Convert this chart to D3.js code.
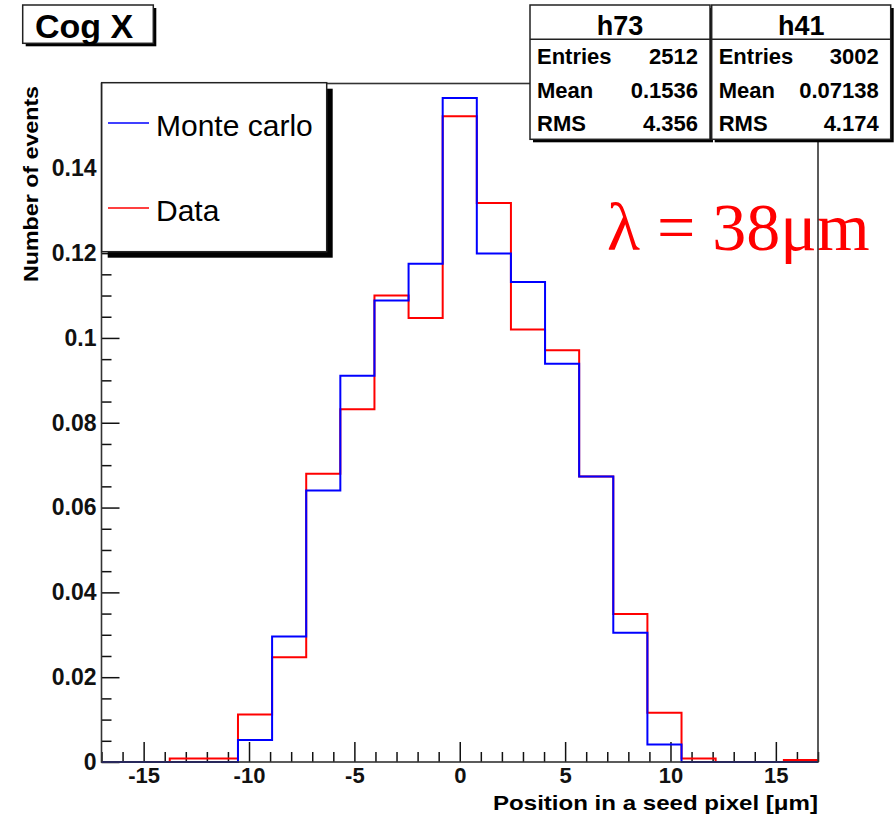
<!DOCTYPE html>
<html>
<head>
<meta charset="utf-8">
<script src="https://cdn.jsdelivr.net/npm/d3@7"></script>
<style>
  body { margin: 0; background: #fff; }
  text { font-family: "Liberation Sans", Arial, Helvetica, sans-serif; }
</style>
</head>
<body>
<script>
var width = 894, height = 815;
var frame = {left: 101.5, right: 818, top: 83.5, bottom: 762};

// 21 bins over [-17, 17]
var xMin = -17, xMax = 17, nBins = 21;

// bin contents (normalised)
var monteCarlo = [0, 0, 0, 0, 0.0052, 0.0296, 0.0640, 0.0911, 0.1088, 0.1175, 0.1566,
                  0.1199, 0.1132, 0.0939, 0.0673, 0.0305, 0.0041, 0, 0, 0, 0];
var dataHist   = [0, 0, 0.0008, 0.0008, 0.0112, 0.0247, 0.0680, 0.0832, 0.1100, 0.1047, 0.1523,
                  0.1318, 0.1020, 0.0971, 0.0673, 0.0349, 0.0116, 0.0008, 0, 0, 0.0005];

var seriesNames  = ["Monte carlo", "Data"];
var seriesColors = ["#0000ff", "#ff0000"];

var histNames  = ["h73", "h41"];
var statLabels = ["Entries", "Mean", "RMS"];
var h73Stats   = ["2512", "0.1536", "4.356"];
var h41Stats   = ["3002", "0.07138", "4.174"];

var xTicks      = [-15, -10, -5, 0, 5, 10, 15];
var yTicks      = [0, 0.02, 0.04, 0.06, 0.08, 0.1, 0.12, 0.14];
var yTickLabels = ["0", "0.02", "0.04", "0.06", "0.08", "0.1", "0.12", "0.14"];

var svg = d3.select("body").append("svg")
    .attr("width", width)
    .attr("height", height);

var x = d3.scaleLinear().domain([xMin, xMax]).range([frame.left, frame.right]);
var y = d3.scaleLinear().domain([0, 0.16]).range([frame.bottom, frame.top]);

// minor ticks
var xMinor = d3.range(-17, 17.01, 1).filter(function(d) { return d % 5 !== 0; });
var yMinor = d3.range(0, 0.1601, 0.005).filter(function(d) { return Math.abs(d / 0.02 - Math.round(d / 0.02)) > 1e-6; });

svg.append("g")
    .attr("transform", "translate(0," + frame.bottom + ")")
    .call(d3.axisBottom(x).tickValues(xMinor).tickFormat("").tickSize(-10))
    .call(function(g) { g.select(".domain").remove(); });

svg.append("g")
    .attr("transform", "translate(" + frame.left + ",0)")
    .call(d3.axisLeft(y).tickValues(yMinor).tickFormat("").tickSize(-10))
    .call(function(g) { g.select(".domain").remove(); });

// major ticks + labels
svg.append("g")
    .attr("class", "x axis")
    .attr("transform", "translate(0," + frame.bottom + ")")
    .call(d3.axisBottom(x).tickValues(xTicks).tickFormat(function(d) { return d; }).tickSize(-20).tickPadding(5))
    .call(function(g) { g.select(".domain").remove(); });

svg.append("g")
    .attr("class", "y axis")
    .attr("transform", "translate(" + frame.left + ",0)")
    .call(d3.axisLeft(y).tickValues(yTicks).tickFormat(function(d, i) { return yTickLabels[i]; }).tickSize(-18).tickPadding(5))
    .call(function(g) { g.select(".domain").remove(); });

svg.selectAll(".tick line").attr("stroke", "#111").attr("stroke-width", 1.5);
svg.selectAll(".tick text")
    .attr("fill", "#111")
    .style("font-family", "'Liberation Sans', Arial, sans-serif")
    .style("font-size", "23px")
    .style("font-weight", "bold");
svg.selectAll(".x.axis .tick text").style("font-size", "22px");

// step histograms
var binW = (xMax - xMin) / nBins;
function stepPoints(vals) {
    var pts = vals.map(function(v, i) { return [xMin + i * binW, v]; });
    pts.push([xMax, vals[vals.length - 1]]);
    return pts;
}
var line = d3.line()
    .x(function(d) { return x(d[0]); })
    .y(function(d) { return y(d[1]); })
    .curve(d3.curveStepAfter);

// data first, monte carlo on top
[dataHist, monteCarlo].forEach(function(vals, i) {
    svg.append("path")
        .datum(stepPoints(vals))
        .attr("fill", "none")
        .attr("stroke", i === 0 ? seriesColors[1] : seriesColors[0])
        .attr("stroke-width", 2)
        .attr("d", line);
});

// lambda label
svg.append("text")
    .attr("x", 607)
    .attr("y", 250)
    .attr("fill", "#ff0000")
    .style("font-family", "'Liberation Serif', 'Times New Roman', serif")
    .style("font-size", "68px")
    .text("λ = 38μm");

// frame
svg.append("rect")
    .attr("x", frame.left).attr("y", frame.top)
    .attr("width", frame.right - frame.left)
    .attr("height", frame.bottom - frame.top)
    .attr("fill", "none")
    .attr("stroke", "#333")
    .attr("stroke-width", 1.6);

// axis titles
svg.append("text")
    .attr("transform", "translate(38,86) rotate(-90)")
    .attr("text-anchor", "end")
    .attr("textLength", 196)
    .attr("lengthAdjust", "spacingAndGlyphs")
    .style("font-size", "21px")
    .style("font-weight", "bold")
    .text("Number of events");

svg.append("text")
    .attr("x", 493)
    .attr("y", 810)
    .attr("textLength", 325)
    .attr("lengthAdjust", "spacingAndGlyphs")
    .style("font-size", "21px")
    .style("font-weight", "bold")
    .text("Position in a seed pixel [μm]");

// legend
var leg = {x: 101.7, y: 82.7, w: 225, h: 169};
svg.append("rect")
    .attr("x", leg.x + 6).attr("y", leg.y + 6)
    .attr("width", leg.w).attr("height", leg.h)
    .attr("fill", "#000");
svg.append("rect")
    .attr("x", leg.x).attr("y", leg.y)
    .attr("width", leg.w).attr("height", leg.h)
    .attr("fill", "#fff")
    .attr("stroke", "#222")
    .attr("stroke-width", 1.5);

var legY = [123, 208];
seriesNames.forEach(function(name, i) {
    svg.append("line")
        .attr("x1", 108).attr("x2", 149)
        .attr("y1", legY[i]).attr("y2", legY[i])
        .attr("stroke", seriesColors[i])
        .attr("stroke-width", 1.5);
    svg.append("text")
        .attr("x", 156)
        .attr("y", legY[i] + 13)
        .style("font-size", "30px")
        .text(name);
});

// stats boxes
var statBoxes = [
    {name: histNames[0], vals: h73Stats, x0: 530, x1: 710},
    {name: histNames[1], vals: h41Stats, x0: 711.7, x1: 890.7}
];
var rowBase = [64, 98, 131];
statBoxes.forEach(function(b) {
    var g = svg.append("g");
    g.append("rect")
        .attr("x", b.x0 + 3).attr("y", 8)
        .attr("width", b.x1 - b.x0).attr("height", 134.3)
        .attr("fill", "#000");
    g.append("rect")
        .attr("x", b.x0).attr("y", 5)
        .attr("width", b.x1 - b.x0).attr("height", 134.3)
        .attr("fill", "#fff")
        .attr("stroke", "#222")
        .attr("stroke-width", 1.5);
    g.append("line")
        .attr("x1", b.x0).attr("x2", b.x1)
        .attr("y1", 39.3).attr("y2", 39.3)
        .attr("stroke", "#222")
        .attr("stroke-width", 1.5);
    g.append("text")
        .attr("x", (b.x0 + b.x1) / 2)
        .attr("y", 35)
        .attr("text-anchor", "middle")
        .style("font-size", "27px")
        .style("font-weight", "bold")
        .text(b.name);
    statLabels.forEach(function(lab, i) {
        g.append("text")
            .attr("x", b.x0 + 7)
            .attr("y", rowBase[i])
            .style("font-size", "22px")
            .style("font-weight", "bold")
            .text(lab);
        g.append("text")
            .attr("x", b.x1 - 12)
            .attr("y", rowBase[i])
            .attr("text-anchor", "end")
            .style("font-size", "22px")
            .style("font-weight", "bold")
            .text(b.vals[i]);
    });
});

// title box
svg.append("rect")
    .attr("x", 25.7).attr("y", 8)
    .attr("width", 130.6).attr("height", 38.3)
    .attr("fill", "#000");
svg.append("rect")
    .attr("x", 22.7).attr("y", 5)
    .attr("width", 130.6).attr("height", 38.3)
    .attr("fill", "#fff")
    .attr("stroke", "#222")
    .attr("stroke-width", 1.5);
svg.append("text")
    .attr("x", 35)
    .attr("y", 38)
    .style("font-size", "34px")
    .style("font-weight", "bold")
    .text("Cog X");
</script>
</body>
</html>
